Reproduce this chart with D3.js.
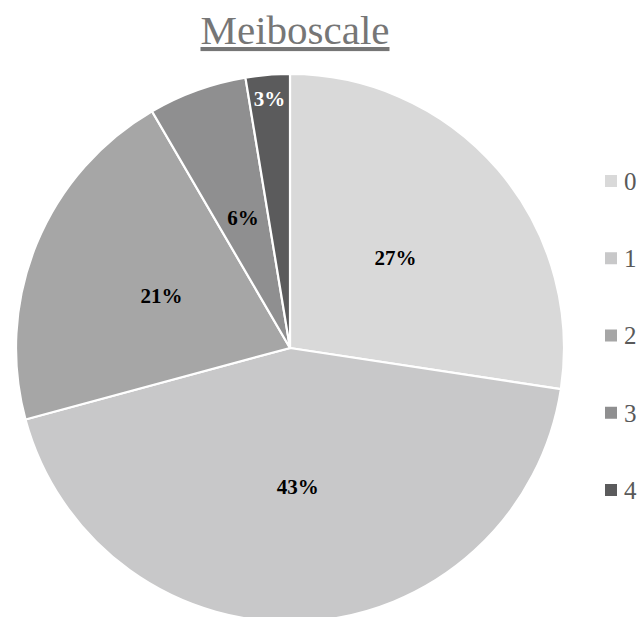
<!DOCTYPE html>
<html><head><meta charset="utf-8">
<script src="https://cdn.jsdelivr.net/npm/d3@7"></script>
<style>body{margin:0;background:#fff} text{font-family:"Times New Roman","Liberation Serif",Tinos,serif}</style>
</head><body>
<svg id="c" width="644" height="617"></svg>
<script>
const categories = ["0","1","2","3","4"];
const values = [27.4, 43.4, 20.8, 5.8, 2.6];
const labels = ["27%","43%","21%","6%","3%"];
const colors = ["#d9d9d9","#c8c8c9","#a6a6a6","#8f8f90","#5b5b5c"];
const labelColors = ["#000","#000","#000","#000","#fff"];
const title = "Meiboscale";

const svg = d3.select("#c");
const cx = 290, cy = 348, R = 274;

svg.append("text").attr("x", 295).attr("y", 44).attr("text-anchor","middle")
  .attr("font-size", 41).attr("fill","#767676")
  .attr("text-decoration","underline").text(title);

const pie = d3.pie().sort(null).value(d=>d)(values);
const arc = d3.arc().innerRadius(0).outerRadius(R);
const g = svg.append("g").attr("transform",`translate(${cx},${cy})`);
g.selectAll("path").data(pie).enter().append("path")
  .attr("d", arc).attr("fill",(d,i)=>colors[i]).attr("stroke","#fff").attr("stroke-width",2.2);

g.selectAll("text.l").data(pie).enter().append("text")
  .attr("transform", d=>{
    const r = d.value < 4 ? 250 : 139;
    const a = (d.startAngle + d.endAngle)/2;
    return `translate(${Math.sin(a)*r},${-Math.cos(a)*r})`;
  })
  .attr("text-anchor","middle").attr("dy","0.35em")
  .attr("font-weight","bold").attr("font-size",21)
  .attr("fill",(d,i)=>labelColors[i]).text((d,i)=>labels[i]);

const lg = svg.append("g");
const ly = d3.scalePoint().domain(categories).range([181, 490]);
categories.forEach((c,i)=>{
  lg.append("rect").attr("x",605).attr("y",ly(c)-6).attr("width",12).attr("height",12).attr("fill",colors[i]);
  lg.append("text").attr("x",624).attr("y",ly(c)).attr("dy","0.35em")
    .attr("font-size",25).attr("fill","#595959").text(c);
});
</script>
</body></html>
